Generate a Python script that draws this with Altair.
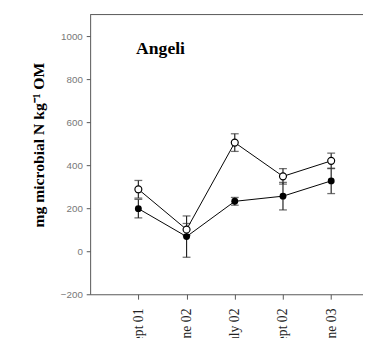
import altair as alt
import pandas as pd

dates = ["Sept 01", "June 02", "July 02", "Sept 02", "June 03"]
open_mean = [288, 101, 505, 348, 420]
open_err = [41, 28, 41, 36, 36]
filled_mean = [198, 68, 232, 256, 327]
filled_err = [43, 96, 18, 64, 59]
y_ticks = [-200, 0, 200, 400, 600, 800, 1000]

rows = []
for i, d in enumerate(dates):
    rows.append(dict(idx=i + 1, date=d, series="open", mean=open_mean[i],
                     lo=open_mean[i] - open_err[i], hi=open_mean[i] + open_err[i]))
    rows.append(dict(idx=i + 1, date=d, series="filled", mean=filled_mean[i],
                     lo=filled_mean[i] - filled_err[i], hi=filled_mean[i] + filled_err[i]))
df = pd.DataFrame(rows)

W, H = 279, 286
label_expr = "{" + ",".join(f"'{i+1}':'{d}'" for i, d in enumerate(dates)) + "}[datum.value]"

xs = alt.Scale(domain=[0, 5.66], nice=False, zero=False)
ys = alt.Scale(domain=[-200, 1100], nice=False, zero=False)

x_axis = alt.Axis(values=[1, 2, 3, 4, 5], labelExpr=label_expr, labelAngle=270,
                  labelFont="Liberation Serif", labelFontSize=14, labelColor="#222",
                  labelPadding=9, tickSize=5, tickColor="#555", domainColor="#555",
                  grid=False, title=None, labelOverlap=False, labelBound=False, labelFlush=False)
y_axis = alt.Axis(values=y_ticks, format="d", labelFont="Liberation Sans", labelFontSize=10,
                  labelColor="#777", labelPadding=4, tickSize=4, tickColor="#555",
                  domainColor="#555", grid=False,
                  title="mg microbial N kg⁻¹ OM", titleFont="Liberation Serif",
                  titleFontSize=16, titleFontWeight="bold", titleColor="black",
                  titleX=-53, titleY=133, titleAngle=270, titleBaseline="middle",
                  titleAlign="center")

base = alt.Chart(df)
x = alt.X("idx:Q", scale=xs, axis=x_axis)
y = alt.Y("mean:Q", scale=ys, axis=y_axis)

lines = base.mark_line(color="black", strokeWidth=1).encode(
    x=x, y=y, detail="series:N")
err = base.mark_rule(color="#222", strokeWidth=1.2).encode(
    x=alt.X("idx:Q", scale=xs), y=alt.Y("lo:Q", scale=ys), y2="hi:Q")
cap_lo = base.mark_tick(orient="horizontal", size=8, thickness=1.3, color="#333").encode(
    x=alt.X("idx:Q", scale=xs), y=alt.Y("lo:Q", scale=ys))
cap_hi = base.mark_tick(orient="horizontal", size=8, thickness=1.3, color="#333").encode(
    x=alt.X("idx:Q", scale=xs), y=alt.Y("hi:Q", scale=ys))
pts_f = base.transform_filter(alt.datum.series == "filled").mark_point(
    shape="circle", filled=True, size=50, color="black", opacity=1).encode(
    x=alt.X("idx:Q", scale=xs), y=alt.Y("mean:Q", scale=ys))
pts_o = base.transform_filter(alt.datum.series == "open").mark_point(
    shape="circle", filled=True, size=50, fill="white", stroke="black",
    strokeWidth=1.2, opacity=1).encode(
    x=alt.X("idx:Q", scale=xs), y=alt.Y("mean:Q", scale=ys))

top_line = alt.Chart(pd.DataFrame({"a": [0]})).mark_rule(color="#555", strokeWidth=1).encode(
    x=alt.value(0), x2=alt.value(W), y=alt.value(0))
title = alt.Chart(pd.DataFrame({"t": ["Angeli"]})).mark_text(
    font="Liberation Serif", fontSize=18, fontWeight="bold", align="left",
    baseline="middle", color="black").encode(
    text="t:N", x=alt.value(47), y=alt.value(35))

chart = alt.layer(top_line, err, cap_lo, cap_hi, lines, pts_f, pts_o, title).properties(
    width=W, height=H,
    autosize=alt.AutoSizeParams(type="none"),
    padding={"left": 84, "top": 3, "right": 0, "bottom": 41},
).configure_view(stroke=None)

chart.save("out.html", embed_options={"renderer": "svg", "actions": False})
